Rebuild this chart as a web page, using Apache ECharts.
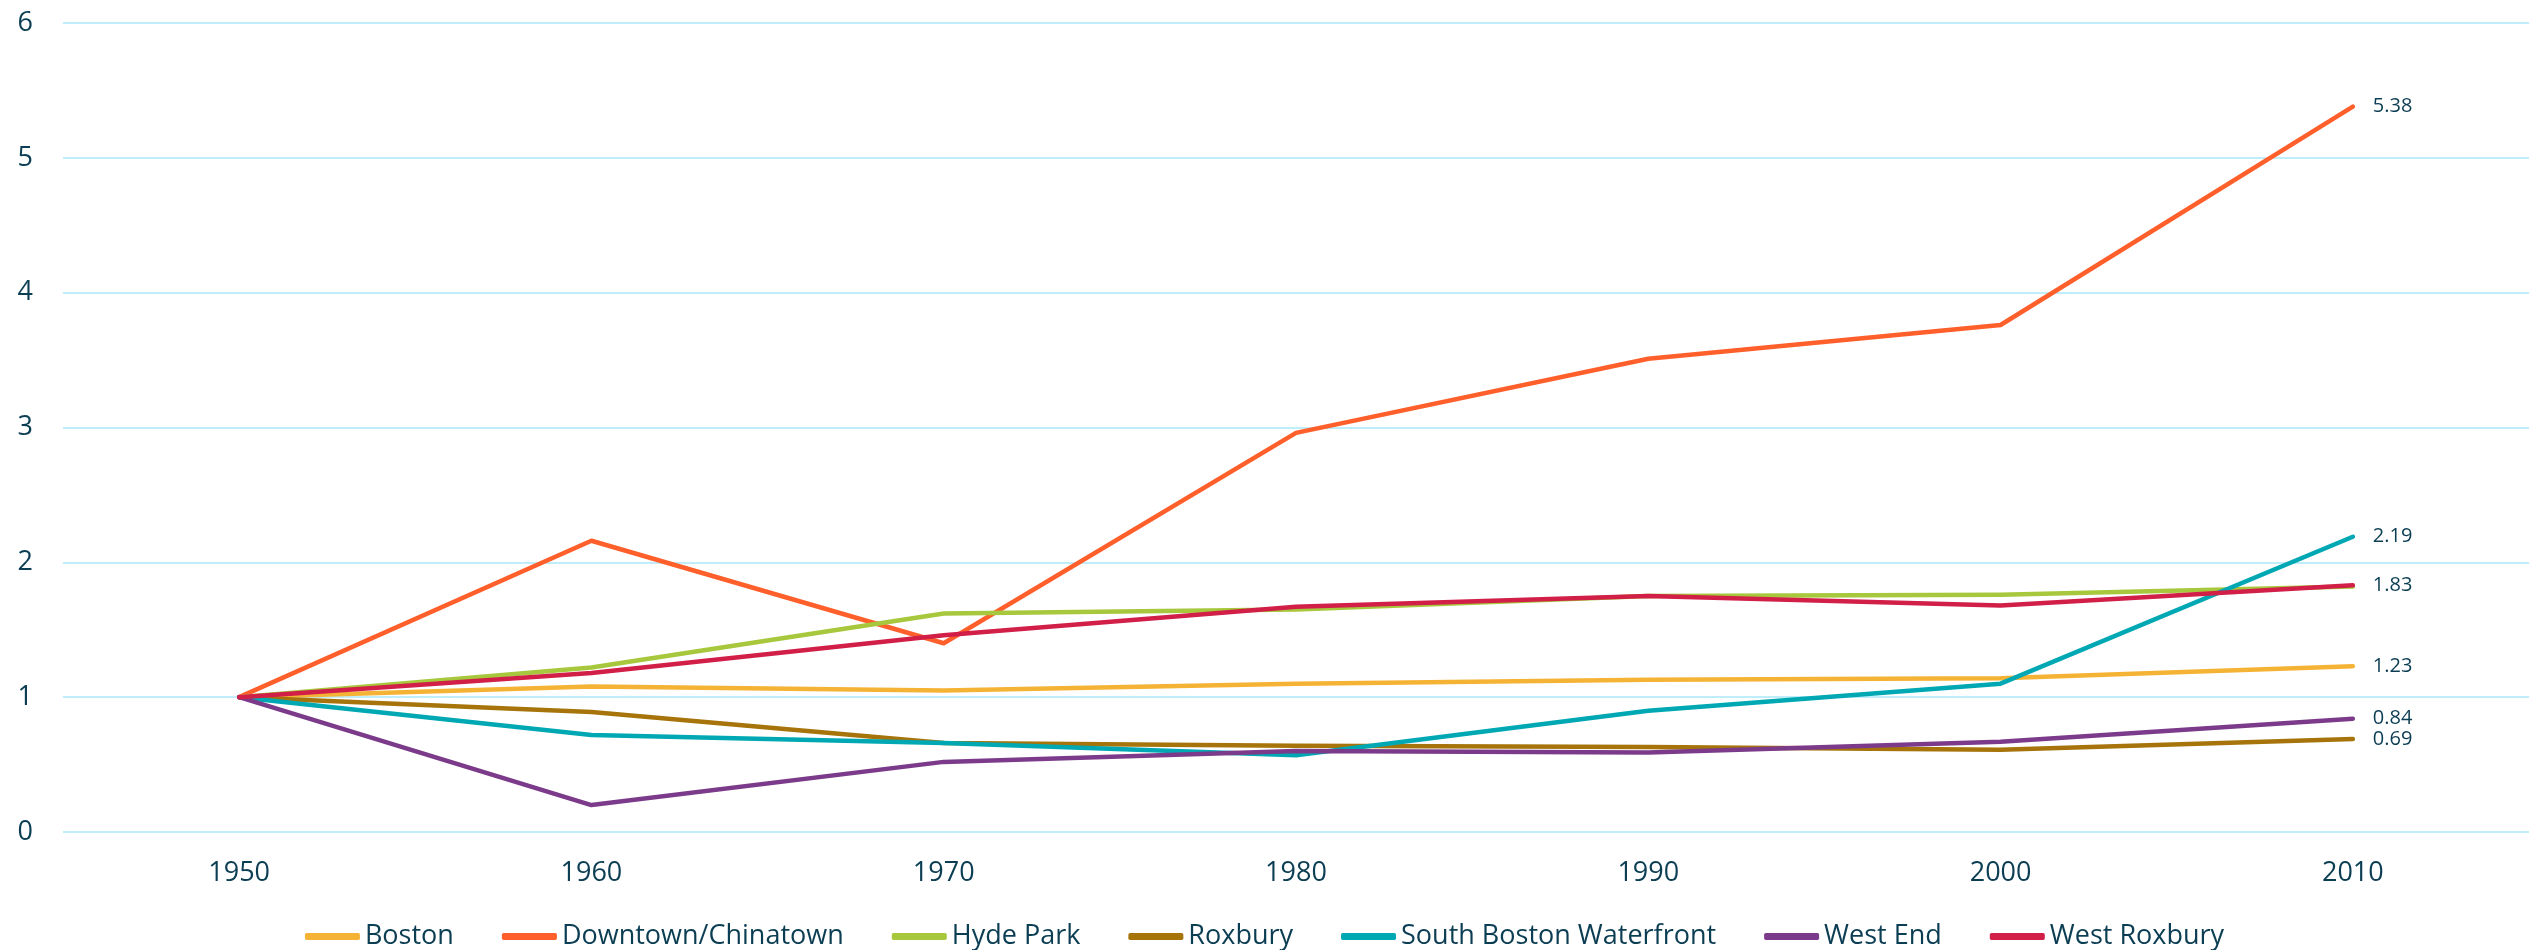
<!DOCTYPE html>
<html>
<head>
<meta charset="utf-8">
<script src="https://cdn.jsdelivr.net/npm/echarts@6/dist/echarts.min.js"></script>
<style>
html,body{margin:0;padding:0;background:#fff;}
#chart{width:2529px;height:950px;}
</style>
</head>
<body>
<div id="chart"></div>
<script>
const categories = ['1950', '1960', '1970', '1980', '1990', '2000', '2010'];
const boston = [1, 1.08, 1.05, 1.10, 1.13, 1.14, 1.23];
const downtownChinatown = [1, 2.16, 1.40, 2.96, 3.51, 3.76, 5.38];
const hydePark = [1, 1.22, 1.62, 1.65, 1.75, 1.76, 1.82];
const roxbury = [1, 0.89, 0.66, 0.64, 0.63, 0.61, 0.69];
const southBostonWaterfront = [1, 0.72, 0.66, 0.57, 0.90, 1.10, 2.19];
const westEnd = [1, 0.20, 0.52, 0.60, 0.59, 0.67, 0.84];
const westRoxbury = [1, 1.18, 1.46, 1.67, 1.75, 1.68, 1.83];
const yTicks = [0, 1, 2, 3, 4, 5, 6];

const textColor = '#0B3D53';
const font = '"Open Sans", "DejaVu Sans", sans-serif';

const seriesDefs = [
  { name: 'Boston', data: boston, color: '#F5B335', label: true },
  { name: 'Downtown/Chinatown', data: downtownChinatown, color: '#FF5F2B', label: true },
  { name: 'Hyde Park', data: hydePark, color: '#A7C83C', label: false },
  { name: 'Roxbury', data: roxbury, color: '#A6740A', label: true },
  { name: 'South Boston Waterfront', data: southBostonWaterfront, color: '#00A8B4', label: true },
  { name: 'West End', data: westEnd, color: '#7C3B8A', label: true },
  { name: 'West Roxbury', data: westRoxbury, color: '#D11F48', label: true }
];

const chart = echarts.init(document.getElementById('chart'));
chart.setOption({
  backgroundColor: '#ffffff',
  animation: false,
  color: seriesDefs.map(s => s.color),
  grid: { left: 63, top: 23, width: 2469, bottom: 118, containLabel: false },
  legend: {
    top: 918,
    left: 'center',
    padding: 5,
    itemGap: 48,
    itemWidth: 55,
    itemHeight: 7,
    icon: 'roundRect',
    textStyle: { color: textColor, fontSize: 27, fontFamily: font },
    data: seriesDefs.map(s => s.name)
  },
  xAxis: {
    type: 'category',
    data: categories,
    boundaryGap: true,
    axisLine: { show: false },
    axisTick: { show: false },
    axisLabel: { color: textColor, fontSize: 27, fontFamily: font, margin: 28 }
  },
  yAxis: {
    type: 'value',
    min: yTicks[0],
    max: yTicks[yTicks.length - 1],
    interval: 1,
    axisLine: { show: false },
    axisTick: { show: false },
    axisLabel: { color: textColor, fontSize: 27, fontFamily: font, margin: 30 },
    splitLine: { lineStyle: { color: '#BFEDFA', width: 2 } }
  },
  series: seriesDefs.map(s => ({
    name: s.name,
    type: 'line',
    data: s.data,
    symbol: 'none',
    lineStyle: { width: 4.5, color: s.color, cap: 'round', join: 'round' },
    itemStyle: { color: s.color },
    endLabel: {
      show: s.label,
      distance: 20,
      color: textColor,
      fontSize: 20,
      fontFamily: font,
      formatter: p => Number(p.value).toFixed(2)
    }
  }))
});
</script>
</body>
</html>
